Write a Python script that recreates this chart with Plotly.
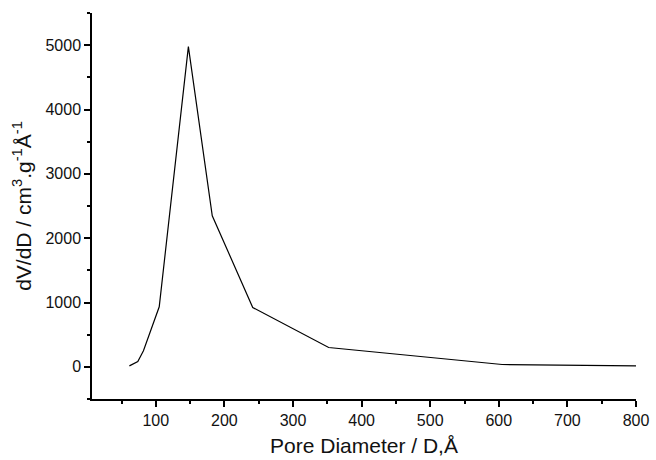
import plotly.graph_objects as go

pore_diameter = [61.5, 73.8, 82, 105, 147.5, 182.3, 241.3, 352, 604.8, 800]
dv_dd = [15, 82, 249, 933, 4977, 2349, 922, 300, 36, 15]

x_tickvals = [100, 200, 300, 400, 500, 600, 700, 800]
y_tickvals = [0, 1000, 2000, 3000, 4000, 5000]

fig = go.Figure()
fig.add_trace(go.Scatter(x=pore_diameter, y=dv_dd, mode="lines",
                         line=dict(color="black", width=1.2),
                         showlegend=False))

font_family = "Liberation Sans, Arial, sans-serif"
fig.update_layout(
    width=656, height=460,
    margin=dict(l=92, r=20, t=13, b=61),
    paper_bgcolor="white", plot_bgcolor="white",
    font=dict(family=font_family, color="#111", size=16),
)
fig.update_xaxes(
    range=[7, 800], tickvals=x_tickvals, showgrid=False, zeroline=False,
    showline=True, linecolor="black", linewidth=1.5, automargin=False,
    ticks="outside", ticklen=6, tickwidth=1.5, tickcolor="black",
    minor=dict(dtick=50, tick0=0, ticks="outside", ticklen=3.5, tickwidth=1.5, tickcolor="black"),
    tickfont=dict(size=16),
    title=dict(text="Pore Diameter / D,Å", font=dict(size=21), standoff=10),
)
fig.update_yaxes(
    range=[-500, 5500], tickvals=y_tickvals, showgrid=False, zeroline=False,
    showline=True, linecolor="black", linewidth=1.5, automargin=False,
    ticks="outside", ticklen=6, tickwidth=1.5, tickcolor="black",
    minor=dict(dtick=500, tick0=0, ticks="outside", ticklen=3.5, tickwidth=1.5, tickcolor="black"),
    tickfont=dict(size=16),
    title=dict(text="dV/dD / cm<sup>3</sup>.g<sup>-1</sup>Å<sup>-1</sup>", font=dict(size=21), standoff=8),
)

fig.write_html("out.html")
